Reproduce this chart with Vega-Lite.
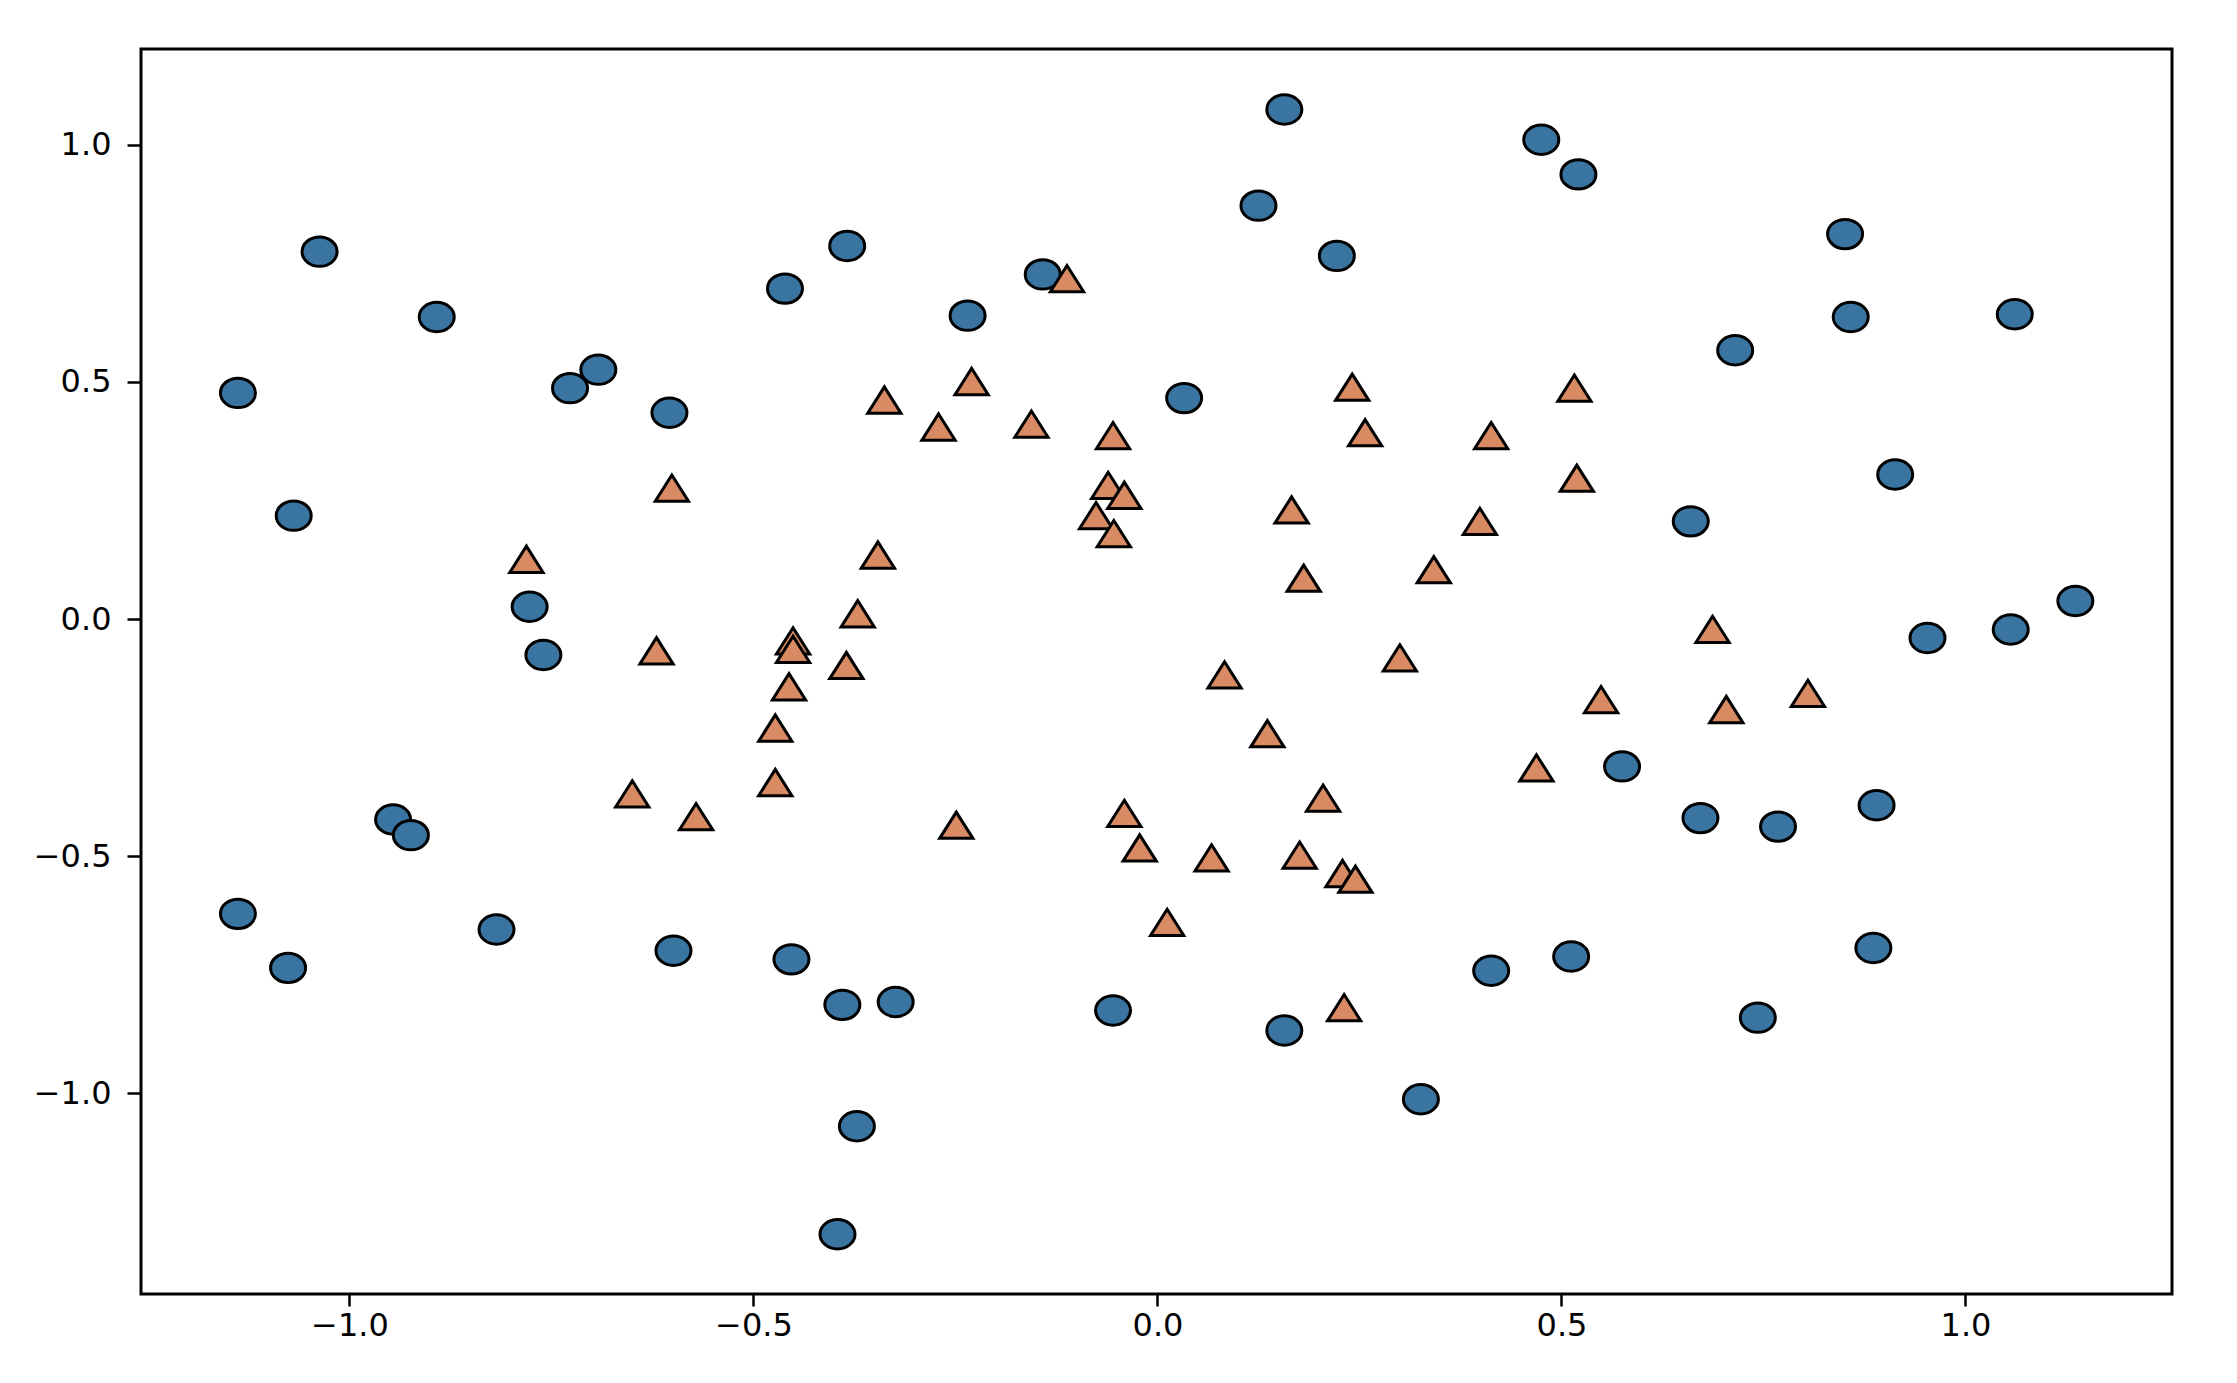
{
  "$schema": "https://vega.github.io/schema/vega-lite/v6.json",
  "width": 2031,
  "height": 1245,
  "autosize": {"type": "none"},
  "padding": {"left": 141, "top": 49, "right": 65, "bottom": 89},
  "background": "white",
  "config": {
    "view": {"stroke": "black", "strokeWidth": 3},
    "axis": {
      "domain": false,
      "grid": false,
      "ticks": true,
      "tickColor": "black",
      "tickWidth": 2.5,
      "labelFont": "DejaVu Sans",
      "labelFontSize": 32,
      "labelColor": "black",
      "title": null
    }
  },
  "data": {
    "values": [
      {"x": 0.157, "y": 1.075, "label": 0},
      {"x": 0.475, "y": 1.011, "label": 0},
      {"x": 0.521, "y": 0.938, "label": 0},
      {"x": 0.125, "y": 0.872, "label": 0},
      {"x": 0.222, "y": 0.766, "label": 0},
      {"x": 0.851, "y": 0.812, "label": 0},
      {"x": 0.858, "y": 0.637, "label": 0},
      {"x": 1.061, "y": 0.643, "label": 0},
      {"x": 0.715, "y": 0.567, "label": 0},
      {"x": 0.913, "y": 0.305, "label": 0},
      {"x": 0.66, "y": 0.206, "label": 0},
      {"x": 1.136, "y": 0.038, "label": 0},
      {"x": 0.953, "y": -0.04, "label": 0},
      {"x": 1.056, "y": -0.022, "label": 0},
      {"x": 0.575, "y": -0.311, "label": 0},
      {"x": 0.672, "y": -0.42, "label": 0},
      {"x": 0.768, "y": -0.438, "label": 0},
      {"x": 0.89, "y": -0.393, "label": 0},
      {"x": 0.886, "y": -0.694, "label": 0},
      {"x": 0.512, "y": -0.712, "label": 0},
      {"x": 0.413, "y": -0.742, "label": 0},
      {"x": 0.743, "y": -0.841, "label": 0},
      {"x": 0.326, "y": -1.013, "label": 0},
      {"x": 0.157, "y": -0.868, "label": 0},
      {"x": -0.055, "y": -0.826, "label": 0},
      {"x": 0.033, "y": 0.466, "label": 0},
      {"x": -0.142, "y": 0.727, "label": 0},
      {"x": -0.235, "y": 0.64, "label": 0},
      {"x": -0.384, "y": 0.787, "label": 0},
      {"x": -0.461, "y": 0.697, "label": 0},
      {"x": -1.037, "y": 0.775, "label": 0},
      {"x": -0.892, "y": 0.637, "label": 0},
      {"x": -1.138, "y": 0.477, "label": 0},
      {"x": -1.069, "y": 0.218, "label": 0},
      {"x": -0.727, "y": 0.487, "label": 0},
      {"x": -0.692, "y": 0.526, "label": 0},
      {"x": -0.604, "y": 0.435, "label": 0},
      {"x": -0.777, "y": 0.026, "label": 0},
      {"x": -0.76, "y": -0.076, "label": 0},
      {"x": -0.946, "y": -0.423, "label": 0},
      {"x": -0.924, "y": -0.456, "label": 0},
      {"x": -1.138, "y": -0.622, "label": 0},
      {"x": -1.076, "y": -0.736, "label": 0},
      {"x": -0.818, "y": -0.655, "label": 0},
      {"x": -0.599, "y": -0.7, "label": 0},
      {"x": -0.453, "y": -0.718, "label": 0},
      {"x": -0.39, "y": -0.814, "label": 0},
      {"x": -0.324, "y": -0.808, "label": 0},
      {"x": -0.372, "y": -1.07, "label": 0},
      {"x": -0.396, "y": -1.298, "label": 0},
      {"x": -0.112, "y": 0.718, "label": 1},
      {"x": -0.338, "y": 0.462, "label": 1},
      {"x": -0.23, "y": 0.501, "label": 1},
      {"x": -0.271, "y": 0.405, "label": 1},
      {"x": -0.156, "y": 0.411, "label": 1},
      {"x": -0.055, "y": 0.387, "label": 1},
      {"x": -0.061, "y": 0.282, "label": 1},
      {"x": -0.041, "y": 0.261, "label": 1},
      {"x": -0.076, "y": 0.218, "label": 1},
      {"x": -0.054, "y": 0.18, "label": 1},
      {"x": -0.601, "y": 0.276, "label": 1},
      {"x": -0.781, "y": 0.126, "label": 1},
      {"x": -0.346, "y": 0.135, "label": 1},
      {"x": -0.371, "y": 0.011, "label": 1},
      {"x": -0.451, "y": -0.046, "label": 1},
      {"x": -0.451, "y": -0.064, "label": 1},
      {"x": -0.62, "y": -0.067, "label": 1},
      {"x": -0.385, "y": -0.098, "label": 1},
      {"x": -0.456, "y": -0.143, "label": 1},
      {"x": -0.473, "y": -0.23, "label": 1},
      {"x": -0.473, "y": -0.345, "label": 1},
      {"x": -0.65, "y": -0.369, "label": 1},
      {"x": -0.571, "y": -0.417, "label": 1},
      {"x": -0.249, "y": -0.435, "label": 1},
      {"x": 0.241, "y": 0.489, "label": 1},
      {"x": 0.257, "y": 0.393, "label": 1},
      {"x": 0.413, "y": 0.387, "label": 1},
      {"x": 0.516, "y": 0.487, "label": 1},
      {"x": 0.519, "y": 0.297, "label": 1},
      {"x": 0.166, "y": 0.23, "label": 1},
      {"x": 0.399, "y": 0.206, "label": 1},
      {"x": 0.181, "y": 0.086, "label": 1},
      {"x": 0.342, "y": 0.104, "label": 1},
      {"x": 0.687, "y": -0.022, "label": 1},
      {"x": 0.3, "y": -0.082, "label": 1},
      {"x": 0.083, "y": -0.118, "label": 1},
      {"x": 0.549, "y": -0.17, "label": 1},
      {"x": 0.805, "y": -0.157, "label": 1},
      {"x": 0.704, "y": -0.191, "label": 1},
      {"x": 0.136, "y": -0.242, "label": 1},
      {"x": 0.469, "y": -0.314, "label": 1},
      {"x": 0.205, "y": -0.378, "label": 1},
      {"x": -0.041, "y": -0.41, "label": 1},
      {"x": -0.022, "y": -0.483, "label": 1},
      {"x": 0.067, "y": -0.504, "label": 1},
      {"x": 0.176, "y": -0.498, "label": 1},
      {"x": 0.229, "y": -0.537, "label": 1},
      {"x": 0.245, "y": -0.549, "label": 1},
      {"x": 0.012, "y": -0.64, "label": 1},
      {"x": 0.231, "y": -0.82, "label": 1}
    ]
  },
  "mark": {
    "type": "point",
    "filled": true,
    "opacity": 1,
    "stroke": "black",
    "strokeWidth": 3,
    "size": 1225
  },
  "encoding": {
    "x": {
      "field": "x",
      "type": "quantitative",
      "scale": {"domain": [-1.258, 1.2556], "nice": false, "zero": false},
      "axis": {"values": [-1, -0.5, 0, 0.5, 1], "format": ".1f", "tickSize": 12, "labelPadding": 4}
    },
    "y": {
      "field": "y",
      "type": "quantitative",
      "scale": {"domain": [-1.424, 1.2025], "nice": false, "zero": false},
      "axis": {"values": [-1, -0.5, 0, 0.5, 1], "format": ".1f", "tickSize": 14, "labelPadding": 16}
    },
    "shape": {
      "field": "label",
      "type": "nominal",
      "scale": {
        "domain": [0, 1],
        "range": [
          "M -1 0 A 1 0.84 0 1 1 1 0 A 1 0.84 0 1 1 -1 0 Z",
          "M 0 -0.75 L 0.95 0.75 L -0.95 0.75 Z"
        ]
      },
      "legend": null
    },
    "color": {
      "field": "label",
      "type": "nominal",
      "scale": {"domain": [0, 1], "range": ["#3a75a1", "#d88a63"]},
      "legend": null
    }
  }
}
